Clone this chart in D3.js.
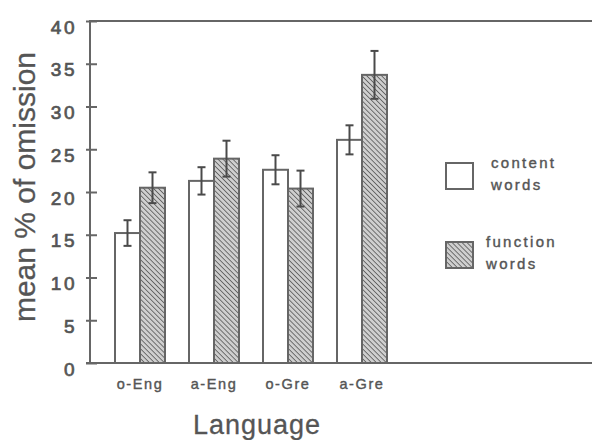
<!DOCTYPE html>
<html>
<head>
<meta charset="utf-8">
<script src="https://cdn.jsdelivr.net/npm/d3@7"></script>
<style>
  body { margin: 0; background: #fff; }
  svg { display: block; font-family: "Liberation Sans", Arial, Helvetica, sans-serif; }
</style>
</head>
<body>
<div id="chart"></div>
<script>
var languages = ["o-Eng", "a-Eng", "o-Gre", "a-Gre"];
var seriesNames = ["content words", "function words"];
var contentMean = [15.2, 21.3, 22.6, 26.1];
var contentErr = [1.5, 1.6, 1.7, 1.7];
var functionMean = [20.5, 23.9, 20.4, 33.7];
var functionErr = [1.8, 2.1, 2.1, 2.8];
var yTicks = [0, 5, 10, 15, 20, 25, 30, 35, 40];

var width = 592, height = 440;
var ink = "#555", lineInk = "#666";

var data = languages.map(function (lang, i) {
    return {
        lang: lang,
        values: [
            {key: "content", mean: contentMean[i], err: contentErr[i]},
            {key: "function", mean: functionMean[i], err: functionErr[i]}
        ]
    };
});

var svg = d3.select("#chart").append("svg")
    .attr("width", width)
    .attr("height", height);

// hatch for the function-word bars
var pat = svg.append("defs").append("pattern")
    .attr("id", "hatch")
    .attr("patternUnits", "userSpaceOnUse")
    .attr("width", 3.5)
    .attr("height", 3.5)
    .attr("patternTransform", "rotate(-45)");
pat.append("rect").attr("width", 3.5).attr("height", 3.5).attr("fill", "#cfcfcf");
pat.append("line")
    .attr("x1", 0).attr("y1", 0).attr("x2", 0).attr("y2", 3.5)
    .attr("stroke", "#5e5e5e").attr("stroke-width", 1.7);

var x = d3.scaleBand().domain(languages).range([103, 399]);
var xInner = d3.scaleBand().domain(["content", "function"]).range([12, 62]);
var y = d3.scaleLinear().domain([0, 40]).range([363, 21]);

// frame: top line and baseline run to the right edge
svg.append("line")
    .attr("x1", 89).attr("x2", width)
    .attr("y1", y(40)).attr("y2", y(40))
    .attr("stroke", lineInk).attr("stroke-width", 2);

// y axis
var yAxisG = svg.append("g")
    .attr("transform", "translate(90,0)")
    .call(d3.axisLeft(y).tickValues(yTicks).tickSize(4).tickFormat(d3.format("d")));
yAxisG.select(".domain")
    .attr("d", "M0," + y(40) + "V" + y(0))
    .attr("stroke", lineInk).attr("stroke-width", 2);
yAxisG.selectAll(".tick line")
    .attr("x1", -4).attr("x2", 7)
    .attr("stroke", lineInk).attr("stroke-width", 2);
yAxisG.selectAll(".tick text")
    .attr("x", -13)
    .attr("dy", "0.64em")
    .attr("fill", ink)
    .attr("stroke", ink)
    .attr("stroke-width", 0.7)
    .style("font-size", "19px")
    .style("letter-spacing", "2.5px");

// bars
var groups = svg.selectAll("g.group")
    .data(data)
    .enter().append("g")
    .attr("class", "group")
    .attr("transform", function (d) { return "translate(" + x(d.lang) + ",0)"; });

groups.selectAll("rect.bar")
    .data(function (d) { return d.values; })
    .enter().append("rect")
    .attr("class", "bar")
    .attr("x", function (d) { return xInner(d.key); })
    .attr("width", xInner.bandwidth())
    .attr("y", function (d) { return y(d.mean); })
    .attr("height", function (d) { return y(0) - y(d.mean); })
    .attr("fill", function (d) { return d.key === "content" ? "#fff" : "url(#hatch)"; })
    .attr("stroke", lineInk)
    .attr("stroke-width", 2);

// error bars
var eb = groups.selectAll("g.err")
    .data(function (d) { return d.values; })
    .enter().append("g")
    .attr("class", "err")
    .attr("transform", function (d) {
        return "translate(" + (xInner(d.key) + xInner.bandwidth() / 2) + ",0)";
    })
    .attr("stroke", "#4a4a4a")
    .attr("stroke-width", 2);
eb.append("line")
    .attr("y1", function (d) { return y(d.mean + d.err); })
    .attr("y2", function (d) { return y(d.mean - d.err); });
eb.append("line")
    .attr("x1", -4).attr("x2", 4)
    .attr("y1", function (d) { return y(d.mean + d.err); })
    .attr("y2", function (d) { return y(d.mean + d.err); });
eb.append("line")
    .attr("x1", -4).attr("x2", 4)
    .attr("y1", function (d) { return y(d.mean - d.err); })
    .attr("y2", function (d) { return y(d.mean - d.err); });

// baseline
svg.append("line")
    .attr("x1", 86).attr("x2", width)
    .attr("y1", y(0)).attr("y2", y(0))
    .attr("stroke", lineInk).attr("stroke-width", 2);

// x labels
svg.selectAll("text.xlab")
    .data(languages)
    .enter().append("text")
    .attr("class", "xlab")
    .attr("x", function (d) { return x(d) + x.bandwidth() / 2; })
    .attr("y", 389)
    .attr("text-anchor", "middle")
    .attr("fill", ink)
    .attr("stroke", ink)
    .attr("stroke-width", 0.4)
    .style("font-size", "14.5px")
    .style("letter-spacing", "1.6px")
    .text(function (d) { return d; });

// axis titles
svg.append("text")
    .attr("x", 257)
    .attr("y", 434)
    .attr("text-anchor", "middle")
    .attr("fill", ink)
    .attr("stroke", ink)
    .attr("stroke-width", 0.3)
    .style("font-size", "27px")
    .style("letter-spacing", "1px")
    .text("Language");

svg.append("text")
    .attr("transform", "translate(35,187) rotate(-90)")
    .attr("text-anchor", "middle")
    .attr("fill", ink)
    .attr("stroke", ink)
    .attr("stroke-width", 0.3)
    .style("font-size", "30px")
    .text("mean % of omission");

// legend
var legend = svg.selectAll("g.legend")
    .data(seriesNames)
    .enter().append("g")
    .attr("class", "legend")
    .attr("transform", function (d, i) { return "translate(446," + (163 + i * 79) + ")"; });
legend.append("rect")
    .attr("width", 27).attr("height", 26)
    .attr("fill", function (d, i) { return i === 0 ? "#fff" : "url(#hatch)"; })
    .attr("stroke", lineInk).attr("stroke-width", 2);
legend.append("text")
    .attr("fill", ink)
    .attr("stroke", ink)
    .attr("stroke-width", 0.4)
    .style("font-size", "15px")
    .style("letter-spacing", "2.3px")
    .selectAll("tspan")
    .data(function (d, i) {
        var w = d.split(" ");
        return w.map(function (s, j) { return {s: s, x: i === 0 ? 45 : 40, y: j === 0 ? 5 : 27}; });
    })
    .enter().append("tspan")
    .attr("x", function (d) { return d.x; })
    .attr("y", function (d) { return d.y; })
    .text(function (d) { return d.s; });
</script>
</body>
</html>
